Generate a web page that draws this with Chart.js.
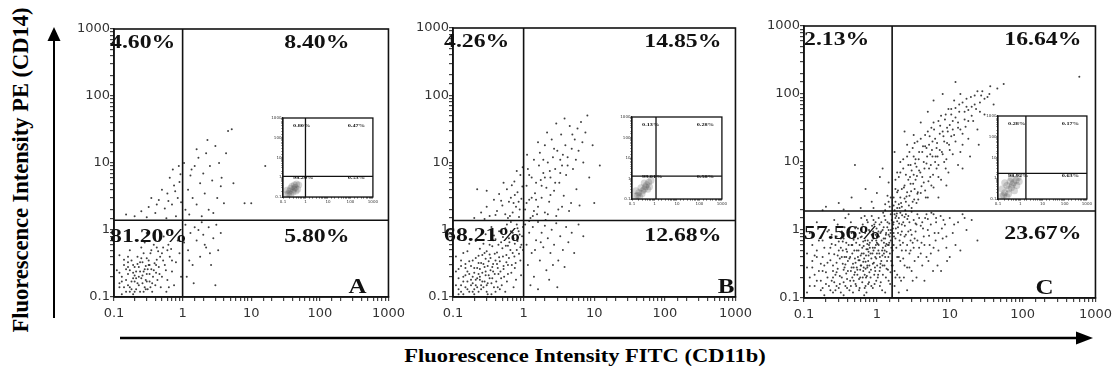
<!DOCTYPE html>
<html>
<head>
<meta charset="utf-8">
<script src="https://cdn.jsdelivr.net/npm/chart.js@4.4.1/dist/chart.umd.min.js"></script>
<style>
  body { margin: 0; background: #fff; }
  #fig { position: relative; width: 1113px; height: 377px; overflow: hidden; }
  .panel { position: absolute; }
  .title { position: absolute; font: bold 18px 'Liberation Serif', 'Times New Roman', serif; white-space: nowrap; color: #000; line-height: 1; }
  #xt { left: 585px; top: 347px; transform: translateX(-50%) scaleX(1.25); }
  #yt { left: 21px; top: 170px; font-size: 22.5px; transform: translate(-50%, -50%) rotate(-90deg); }
</style>
</head>
<body>
<div id="fig">
  <svg width="1113" height="377" style="position:absolute;left:0;top:0">
    <line x1="54" y1="318" x2="54" y2="38" stroke="#000" stroke-width="2"/>
    <polygon points="54,27 47.5,41 60.5,41" fill="#000"/>
    <line x1="120" y1="338" x2="1078" y2="338" stroke="#000" stroke-width="2.5"/>
    <polygon points="1093,338 1076,331.5 1076,344.5" fill="#000"/>
  </svg>
  <div class="title" id="xt">Fluorescence Intensity FITC (CD11b)</div>
  <div class="title" id="yt">Fluorescence Intensity PE (CD14)</div>
  <canvas id="chartA" class="panel"></canvas>
  <canvas id="chartB" class="panel"></canvas>
  <canvas id="chartC" class="panel"></canvas>
  <canvas id="insetA" class="panel"></canvas>
  <canvas id="insetB" class="panel"></canvas>
  <canvas id="insetC" class="panel"></canvas>
</div>
<script>
// axis ticks (both axes, log scale)
const decades = [0.1, 1, 10, 100, 1000];
const tickText = ['0.1', '1', '10', '100', '1000'];

// quadrant gates [FITC, PE] and percentages [UL, UR, LL, LR]
const gateA = [1.0, 1.4];
const gateB = [1.0, 1.37];
const gateC = [1.62, 1.9];
const pctA = ['4.60%', '8.40%', '81.20%', '5.80%'];
const pctB = ['4.26%', '14.85%', '68.21%', '12.68%'];
const pctC = ['2.13%', '16.64%', '57.56%', '23.67%'];
const panelNames = ['A', 'B', 'C'];

// isotype control insets
const insetGateA = [1.0, 1.1];
const insetGateB = [1.17, 1.3];
const insetGateC = [1.8, 1.7];
const insetPctA = ['0.80%', '0.47%', '98.20%', '0.53%'];
const insetPctB = ['0.13%', '0.28%', '99.01%', '0.58%'];
const insetPctC = ['0.28%', '0.17%', '98.92%', '0.63%'];
const insetCellsA = [[.2,.2],[.3,.25],[.25,.35],[.35,.3],[.18,.15],[.4,.45],[.28,.18],[.22,.28],[.45,.25],[.15,.22],[.32,.4],[.22,.13],[.38,.2],[.15,.14],[.5,.4]];
const insetCellsB = [[.2,.2],[.3,.25],[.25,.35],[.35,.3],[.18,.15],[.45,.5],[.28,.18],[.55,.65],[.4,.4],[.15,.25],[.6,.4],[.22,.13],[.35,.6],[.15,.14],[.7,.8],[.5,.3]];
const insetCellsC = [[.2,.2],[.3,.3],[.25,.45],[.4,.35],[.18,.15],[.5,.6],[.3,.18],[.65,.8],[.45,.5],[.15,.3],[.8,1.1],[.7,.45],[.2,.6],[.15,.14],[.35,.7],[.9,.7],[.25,.13],[.55,.25],[.4,1]];

// events [FITC, PE]
const cellsA = [
  [.12,.14],[.15,.18],[.18,.13],[.2,.21],[.22,.16],[.25,.19],[.17,.25],[.14,.3],[.28,.14],[.3,.22],[.19,.11],[.23,.28],[.13,.2],[.16,.15],[.26,.33],[.33,.17],[.21,.24],[.35,.26],[.4,.15],[.18,.35],
  [.24,.12],[.29,.29],[.12,.42],[.16,.22],[.37,.2],[.45,.28],[.2,.17],[.27,.24],[.31,.13],[.15,.12],[.42,.36],[.5,.2],[.22,.4],[.34,.45],[.19,.3],[.11,.25],[.25,.55],[.3,.38],[.48,.14],[.55,.3],
  [.6,.18],[.38,.6],[.17,.5],[.44,.48],[.65,.4],[.7,.24],[.28,.65],[.52,.55],[.75,.15],[.8,.33],[.62,.6],[.9,.45],[.13,.11],[.23,.2],[.32,.3],[.41,.23],[.21,.13],[.36,.12],[.26,.16],[.14,.36],
  [.58,.12],[.47,.4],[.19,.19],[.24,.33],[.33,.22],[.16,.28],[.29,.18],[.39,.32],[.12,.16],[.85,.7],[.68,.52],[.95,.2],[.22,.7],[.53,.8],[.3,.9],
  [.13,.17],[.17,.14],[.2,.12],[.23,.15],[.26,.21],[.3,.17],[.34,.14],[.19,.23],[.15,.26],[.22,.31],[.28,.26],[.32,.35],[.38,.25],[.43,.18],[.14,.14],[.18,.17],[.21,.19],[.24,.24],[.27,.12],[.31,.26],
  [.36,.16],[.41,.3],[.16,.33],[.2,.28],[.25,.38],[.12,.23],[.17,.12],[.29,.13],[.33,.3],[.46,.22],[.52,.35],[.57,.25],[.63,.14],[.7,.35],[.35,.5],[.27,.45],[.42,.55],[.16,.4],[.5,.45],[.6,.5],
  [.15,1.7],[.2,1.6],[.25,1.9],[.32,2.2],[.4,1.8],[.45,2.8],[.55,2.1],[.6,3.5],[.7,2.4],[.75,4.6],[.85,3],[.9,5.2],[.5,4],[.65,6],[.8,1.6],[.95,2.6],[.35,3],[.58,1.5],[.72,8],[.88,9],
  [.42,2.4],[.62,2.7],[.78,3.8],[.93,6.8],[.3,1.55],
  [1.1,2],[1.2,4],[1.3,6.5],[1.4,3],[1.5,9],[1.6,2.4],[1.7,12],[1.8,5],[2,7],[2.1,3.5],[2.2,14],[2.4,2],[2.5,9],[2.7,5.5],[3,18],[3.2,3],[3.4,10],[3.7,6],[4,2.5],[4.3,14],
  [4.6,30],[5.2,32],[1.25,1.7],[1.9,1.6],[2.8,1.8],[1.05,10],[1.35,8],[3.6,4.5],[8,2.5],[10,2.5],[16,9],[5.5,5],[2.3,22],[1.6,16],
  [1.1,1.2],[1.2,.5],[1.3,.9],[1.4,.3],[1.5,1.1],[1.6,.7],[1.8,.4],[1.9,1.3],[2,.85],[2.2,.55],[2.4,1.1],[2.6,.3],[2.8,.75],[3.1,1.2],[3.3,.5],[3.6,.9],[1.15,.2],[1.45,.16],[1.7,1],[2.1,.6],
  [3,.15],[1.05,.65],[1.25,.35],[2.5,.45]
];

const cellsB = [
  [.12,.13],[.14,.17],[.17,.12],[.19,.2],[.21,.15],[.24,.18],[.16,.24],[.13,.29],[.27,.14],[.29,.21],[.2,.11],[.22,.27],[.12,.19],[.15,.14],[.25,.32],[.31,.16],[.2,.23],[.34,.25],[.38,.14],[.17,.34],
  [.23,.12],[.28,.28],[.11,.4],[.15,.21],[.36,.19],[.43,.27],[.19,.16],[.26,.23],[.3,.12],[.14,.11],[.4,.35],[.48,.19],[.21,.38],[.33,.43],[.18,.29],[.11,.24],[.24,.52],[.29,.37],[.46,.13],[.52,.29],
  [.58,.17],[.36,.57],[.16,.48],[.42,.46],[.62,.38],[.67,.23],[.27,.62],[.5,.53],[.72,.14],[.77,.32],[.6,.58],[.86,.44],[.12,.11],[.22,.19],[.31,.29],[.39,.22],[.2,.13],[.35,.11],[.25,.15],[.13,.35],
  [.55,.12],[.45,.39],[.18,.18],[.23,.32],[.32,.21],[.15,.27],[.28,.17],[.37,.31],[.11,.15],[.82,.68],[.65,.5],[.92,.21],[.21,.68],[.51,.78],[.29,.86],[.4,.72],[.7,.9],[.55,1.05],[.8,1.2],[.95,.8],
  [.45,.95],[.35,1.1],[.62,.75],[.9,.55],[.75,.62],[.3,.48],[.48,.65],[.66,1.3],[.26,.42],[.44,.22],[.57,.42],[.17,.62],[.14,.45],[.38,.82],[.98,1.1],[.85,.95],[.6,.3],[.7,.45],[.33,.6],[.78,.18],
  [.13,.15],[.16,.13],[.18,.15],[.21,.18],[.23,.22],[.26,.17],[.3,.15],[.33,.19],[.37,.24],[.41,.17],[.14,.2],[.17,.22],[.2,.27],[.24,.26],[.27,.31],[.32,.34],[.36,.28],[.42,.31],[.47,.24],[.53,.2],
  [.12,.26],[.15,.31],[.19,.35],[.23,.41],[.28,.45],[.34,.38],[.39,.44],[.46,.34],[.51,.4],[.57,.33],[.13,.12],[.19,.12],[.25,.13],[.31,.11],[.4,.12],[.49,.15],[.6,.22],[.68,.3],[.74,.4],[.8,.5],
  [.63,.65],[.56,.58],[.44,.6],[.37,.7],[.72,.75],[.88,.85],[.93,.6],[.66,.95],[.58,1.2],[.82,1.05],[.24,.2],[.29,.24],[.35,.16],[.16,.17],[.22,.14],[.43,.14],[.52,.26],[.75,.27],[.9,.35],[.98,.5],
  [.2,1.5],[.25,1.8],[.3,2.2],[.33,1.6],[.38,2.8],[.42,1.9],[.45,3.4],[.5,2.3],[.55,1.7],[.58,4],[.62,2.6],[.66,3],[.7,1.8],[.74,5.2],[.78,2.2],[.82,3.6],[.86,1.55],[.9,6.5],[.93,2.9],[.96,4.4],
  [.3,3.8],[.28,1.45],[.48,2.7],[.6,1.5],[.68,4.6],[.8,7.5],[.88,2],[.52,5],[.4,1.65],[.72,2.5],[.64,1.6],[.97,8.5],[.22,4],[.85,2.6],[.75,3.3],
  [1.05,2],[1.1,4.5],[1.15,8],[1.2,2.8],[1.3,6],[1.35,1.6],[1.4,11],[1.45,3.5],[1.5,5],[1.6,2.2],[1.65,9],[1.7,14],[1.8,3],[1.9,7],[2,1.8],[2,18],[2.1,4.2],[2.2,10],[2.3,2.6],[2.4,6],
  [2.5,22],[2.6,12],[2.7,3.8],[2.8,8],[3,15],[3.1,2],[3.2,5],[3.4,26],[3.5,9],[3.7,3.2],[3.9,18],[4,6.5],[4.2,12],[4.5,35],[4.7,2.5],[5,8],[5.3,22],[5.6,4],[6,15],[6.5,40],
  [7,10],[7.5,28],[8,50],[8.5,6],[9.5,18],[10,2.5],[12,9],[1.25,1.5],[1.55,1.7],[2.9,1.6],[4.4,1.9],[6.2,2.3],[1.75,5.5],[2.35,7.5],[3.3,11],[5.8,32],[1.12,13],[1.6,20],[2.15,28],[3.8,45],
  [2.9,38],[1.1,2.5],[1.3,3],[1.5,2.8],[1.8,4.5],[2,6],[2.4,3.3],[2.8,5],[3.3,7],[3.6,13],[4.2,9],[4.8,16],[5.5,11],[6.8,20],[1.4,1.9],[2.2,1.7],[3.5,2.2],[1.2,6.5],[1.9,11],[2.7,16],[4.9,26],
  [1.05,1.2],[1.1,.6],[1.15,.3],[1.2,.9],[1.3,.45],[1.35,1.1],[1.4,.2],[1.5,.7],[1.6,1.3],[1.7,.35],[1.8,.9],[1.9,.55],[2,1.15],[2.1,.25],[2.2,.75],[2.4,.45],[2.5,1],[2.7,.6],[2.9,1.25],[3.1,.35],
  [3.3,.8],[3.6,.5],[4,1.1],[4.3,.65],[4.8,.9],[5.2,.45],[6,1.2],[7,.8],[1.25,.15],[1.6,.13],[2.3,.18],[3,.14],[1.45,.5],[1.75,.65],[2.6,.3],[1.2,1.35],[3.8,.28],[2.05,1.4]
];

const cellsC = [
  [.11,.12],[.12,.2],[.13,.35],[.14,.15],[.15,.5],[.16,.25],[.17,.13],[.18,.7],[.19,.3],[.12,.9],[.15,1.3],[.11,.45],[.17,.18],[.19,.11],[.13,.6],[.16,1.1],[.18,.4],[.14,.22],[.2,.16],[.11,.28],
  [.21,.2],[.22,.45],[.23,.13],[.24,.85],[.25,.3],[.26,.17],[.27,.6],[.28,.24],[.29,1.2],[.3,.14],[.31,.38],[.32,.75],[.33,.2],[.34,.5],[.35,.11],[.36,.28],[.37,1.5],[.38,.65],[.39,.19],[.4,.35],
  [.21,.33],[.23,.55],[.25,.12],[.27,.22],[.29,.42],[.31,.16],[.33,.95],[.35,.26],[.37,.15],[.39,.48],[.22,1],[.26,1.4],[.3,.68],[.34,.32],[.38,.23],[.24,.18],[.28,.15],[.32,.55],[.36,.4],[.4,.82],
  [.42,.13],[.44,.25],[.46,.6],[.48,.18],[.5,.38],[.52,1.1],[.54,.22],[.56,.5],[.58,.14],[.6,.3],[.62,.8],[.64,.2],[.66,.45],[.68,1.6],[.7,.27],[.72,.12],[.74,.62],[.76,.35],[.78,.17],[.8,.95],
  [.43,.4],[.47,.32],[.51,.16],[.55,.75],[.59,.26],[.63,.55],[.67,.11],[.71,.42],[.75,1.3],[.79,.24],[.45,.9],[.49,.5],[.53,.28],[.57,.19],[.61,1.5],[.65,.34],[.69,.7],[.73,.21],[.77,.48],[.41,1.7],
  [.44,.15],[.5,.24],[.6,.42],[.7,.15],[.58,.9],[.66,.28],[.52,.65],[.74,.3],[.46,.2],[.8,.55],
  [.82,.2],[.84,.38],[.86,.7],[.88,.14],[.9,.5],[.92,1.2],[.94,.28],[.96,.85],[.98,.18],[1,.45],[1.03,.62],[1.06,1.5],[1.09,.25],[1.12,.9],[1.15,.35],[1.18,.13],[1.21,.55],[1.24,1.1],[1.27,.3],[1.3,.75],
  [1.33,.2],[1.36,.48],[1.4,1.3],[1.44,.4],[1.48,.65],[1.52,.16],[1.56,1],[1.6,.3],[.85,1.6],[.91,.33],[.97,.6],[1.04,.22],[1.1,.4],[1.16,.7],[1.22,1.8],[1.28,.5],[1.34,.9],[1.42,.26],[1.5,.8],[1.58,.55],
  [.83,.26],[.89,.95],[.95,.4],[1.01,.3],[1.07,.8],[1.13,.17],[1.19,.42],[1.25,.65],[1.31,1.4],[1.38,.35],[1.46,.6],[1.54,.24],[.87,.45],[.93,.16],[.99,1.05],[1.05,.5],[1.11,.28],[1.2,1],[1.32,.58],[1.45,.85],
  [.12,.15],[.13,.28],[.14,.42],[.15,.18],[.16,.7],[.17,.32],[.18,.14],[.19,.55],[.2,.24],[.21,.95],[.22,.15],[.23,.36],[.24,.62],[.25,.2],[.26,.44],[.27,.13],[.28,.8],[.29,.27],[.3,.5],[.31,.21],
  [.32,.12],[.33,.4],[.34,.68],[.35,.17],[.36,1.1],[.37,.31],[.38,.52],[.39,.14],[.4,.25],[.41,.6],[.42,.38],[.43,.18],[.44,1.3],[.45,.28],[.46,.45],[.47,.12],[.48,.72],[.49,.22],[.5,.9],[.51,.33],
  [.52,.15],[.53,.5],[.54,.26],[.55,1.05],[.56,.36],[.57,.13],[.58,.6],[.59,.2],[.6,.78],[.61,.3],[.62,.45],[.63,.17],[.64,1.2],[.65,.25],[.66,.58],[.67,.38],[.68,.14],[.69,.9],[.7,.34],[.71,.2],
  [.72,.52],[.73,1.4],[.74,.28],[.75,.7],[.76,.16],[.77,.42],[.78,1],[.79,.3],[.8,.65],[.82,.45],[.84,.15],[.86,1.15],[.88,.32],[.9,.75],[.92,.22],[.94,.55],[.96,1.3],[.98,.38],[1,.8],[1.03,.2],
  [1.06,.6],[1.09,1.2],[1.12,.32],[1.15,.95],[1.18,.5],[1.21,.22],[1.24,.75],[1.27,1.6],[1.3,.4],[1.33,.85],[1.36,.27],[1.39,1.1],[1.42,.6],[1.45,.18],[1.48,1.25],[1.51,.45],[1.54,.9],[1.57,.35],[1.6,1.4],[1.55,.7],
  [.9,1.4],[1.05,.95],[1.15,1.3],[1.25,.45],[1.35,.62],[1.45,1],[1.55,1.7],[1.2,.3],[1.0,.65],[.95,.25],[1.1,.15],[1.3,.12],[.85,.85],[.75,.52],[.65,.68],[.55,.4],[.45,.6],[.35,.75],[.25,.25],[.15,.4],
  [.18,.25],[.28,.33],[.38,.4],[.48,.28],[.58,.36],[.68,.22],[.78,.6],[.88,.55],[.98,.7],[1.08,.45],
  [1.7,2.3],[1.8,4],[1.9,2.1],[2,6],[2.1,3],[2.2,2.2],[2.3,8],[2.4,4.5],[2.5,2.6],[2.6,12],[2.7,5.5],[2.8,3.2],[2.9,9],[3,2.1],[3.1,16],[3.2,6.5],[3.3,4],[3.4,11],[3.5,2.5],[3.6,20],
  [3.8,7.5],[4,3.5],[4.2,14],[4.4,5],[4.6,25],[4.8,9.5],[5,3],[5.2,18],[5.4,6],[5.6,32],[5.8,12],[6,4.2],[6.3,22],[6.6,8],[7,40],[7.3,15],[7.6,5.5],[8,28],[8.4,10],[8.8,50],
  [9.2,19],[9.6,7],[10,35],[10.5,60],[11,13],[11.5,25],[12,45],[13,9],[13.5,70],[14,30],[15,18],[16,55],[17,85],[18,40],[19,12],[20,65],[22,95],[24,30],[26,75],[28,110],
  [30,50],[33,90],[36,130],[40,70],[45,120],[55,140],[2.1,10],[2.6,18],[3.2,25],[4,38],[1.75,14],[2.4,28],[5,55],[6,80],[8,100],[12,150],[1.9,7],[15,8],[25,18],[7,3],
  [9,4.5],[600,180],[3.7,2.8],[6.8,12],[4.6,17],
  [1.7,3],[1.8,5.5],[1.9,3.6],[2,2.4],[2.1,7],[2.2,4],[2.3,11],[2.4,2.9],[2.5,6.5],[2.6,3.6],[2.7,9],[2.8,14],[2.9,4.8],[3,7.5],[3.1,2.6],[3.2,12],[3.3,19],[3.4,5.5],[3.5,8.5],[3.6,3.4],
  [3.8,14],[4,22],[4.2,6],[4.4,10],[4.6,3.8],[4.8,16],[5,28],[5.2,8],[5.4,13],[5.6,4.5],[5.8,20],[6,38],[6.3,10],[6.6,16],[7,6],[7.3,26],[7.6,48],[8,13],[8.4,20],[8.8,8],
  [9.2,32],[9.6,60],[10,15],[10.5,24],[11,40],[11.5,80],[12,20],[13,32],[13.5,55],[14,100],[15,26],[16,42],[17,65],[18,22],[20,48],[22,70],[24,110],[26,55],[30,85],[35,100],
  [1.75,1.95],[1.8,2.6],[1.95,3.8],[2.05,2.1],[2.15,2.5],[2.35,4.2],[2.45,1.95],[2.55,3.1],[2.75,2.3],[2.85,6],[2.95,3.7],[3.15,4.8],[3.25,2.8],[3.35,9.5],[3.55,6.2],[3.65,3.6],[3.75,11],[3.95,7],[4.1,4.4],[4.3,17],
  [4.5,8],[4.7,3],[4.9,12],[5.1,5.2],[5.3,24],[5.5,9],[5.7,15],[5.9,6.5],[6.1,30],[6.4,12],[6.7,19],[7,9],[7.4,34],[7.8,14],[8.2,24],[8.6,42],[9,11],[9.4,28],[9.8,18],[10.5,50],
  [11,30],[12,62],[13,38],[14,14],[15,75],[16.5,33],[18,58],[19.5,90],[21,40],[23,60],[27,95],
  [1.65,.3],[1.7,.9],[1.75,.15],[1.8,1.5],[1.85,.55],[1.9,.22],[1.95,1.1],[2,.4],[2.05,.7],[2.1,1.8],[2.15,.18],[2.2,.5],[2.3,1.3],[2.4,.3],[2.5,.85],[2.6,.13],[2.7,1.6],[2.8,.45],[2.9,1],[3,.25],
  [3.1,.65],[3.2,1.4],[3.3,.35],[3.4,.95],[3.5,.2],[3.6,1.7],[3.8,.55],[4,1.15],[4.2,.3],[4.4,.8],[4.6,1.5],[4.8,.4],[5,1],[5.3,.6],[5.6,1.8],[5.9,.25],[6.2,.9],[6.5,1.3],[7,.5],[7.5,1.6],
  [8,.75],[8.6,1.2],[9.2,.35],[10,1.5],[11,.9],[12,.6],[13,1.3],[15,1.7],[17,1],[20,1.4],[24,.7],[1.7,.6],[1.8,.2],[1.9,1.35],[2,.12],[2.2,.95],[2.4,1.55],[2.6,.6],[2.8,.28],[3,1.85],
  [3.3,.75],[3.7,.4],[4.1,.65],[4.5,.18],[5,1.45],[5.5,.45],[6,1.7],[6.8,.3],[7.8,1.05],[9,.55],[1.68,1.2],[2.1,.35],[2.5,.5],[2.9,.7],[3.5,1.2],[4.3,1.05],[5.2,.82],[6.4,.7],[1.75,1.7],[2.35,.2],
  [1.65,.5],[1.7,1.3],[1.75,.25],[1.8,.75],[1.85,1.6],[1.9,.4],[1.95,.9],[2,1.5],[2.05,.2],[2.1,.6],[2.2,1.2],[2.3,.38],[2.4,.8],[2.5,1.7],[2.6,.28],[2.7,.95],[2.8,1.3],[2.9,.5],[3,.85],[3.1,.18],
  [3.2,.55],[3.4,1.25],[3.6,.7],[3.8,1.5],[4,.45],[4.2,1.3],[4.5,.6],[4.8,1.7],[5.1,.35],[5.5,1.2],[6,.55],[6.5,1.5],[7,.9],[7.6,.25],[8.2,1.4],[9,.8],[10,.4],[11.5,1.2],[14,.5],[16,1.5],
  [1.66,1.05],[1.72,.8],[1.82,1.05],[1.88,1.75],[2.02,1.25],[2.12,.85],[2.22,1.65],[2.28,.65],[2.42,1.15],[2.62,1.45],
  [.2,2.2],[.3,2.5],[.45,3],[.6,2.1],[.7,4],[.85,2.6],[1,3.5],[1.1,6],[1.3,2.4],[1.45,5],[.5,9],[.9,2.1],[1.2,8],[.35,2],[.18,1.95],[1.55,3],
  [1.3,1.95],[1.45,2.6],[1.5,2.2],[1.4,3.2]
];

// pixel boxes of each plot area: [left, top, right, bottom]
const boxes = { A: [114, 29, 391, 297], B: [453, 28, 738, 297], C: [804, 26, 1098, 298] };
const insetBoxes = { A: [283, 117, 373, 197], B: [632, 116, 722, 199], C: [998, 115, 1087, 199] };
const labelOffsets = { A: [-4, -39, -22], B: [-9, -14, -1], C: [0, -14, -42] };

const serif = "'Liberation Serif', 'Times New Roman', serif";

const quadPlugin = {
  id: 'quad',
  beforeDatasetsDraw(chart, args, o) {
    const { ctx, chartArea: a } = chart;
    if (o.fill) {
      ctx.save();
      ctx.fillStyle = o.fill;
      ctx.fillRect(a.left, a.top, a.right - a.left, a.bottom - a.top);
      ctx.restore();
    }
  },
  afterDatasetsDraw(chart, args, o) {
    const { ctx, chartArea: a, scales: { x, y } } = chart;
    ctx.save();
    ctx.strokeStyle = '#111';
    ctx.lineWidth = o.lineWidth;
    ctx.strokeRect(a.left, a.top, a.right - a.left, a.bottom - a.top);
    const gx = x.getPixelForValue(o.gate[0]);
    const gy = y.getPixelForValue(o.gate[1]);
    ctx.beginPath();
    ctx.moveTo(gx, a.top); ctx.lineTo(gx, a.bottom);
    ctx.moveTo(a.left, gy); ctx.lineTo(a.right, gy);
    ctx.stroke();

    ctx.fillStyle = '#111';
    const put = (t, px, py, right) => {
      const w = ctx.measureText(t).width * 1.25;
      ctx.save();
      ctx.translate(right ? px - w : px, py);
      ctx.scale(1.25, 1);
      ctx.fillText(t, 0, 0);
      ctx.restore();
    };
    ctx.font = 'bold ' + o.size + 'px ' + serif;
    put(o.pct[0], a.left + o.offL, a.top + o.topBase, false);
    put(o.pct[1], a.right + o.offR, a.top + o.topBase, true);
    put(o.pct[2], a.left + o.offL, a.top + o.lowBase, false);
    put(o.pct[3], a.right + o.offR, a.top + o.lowBase, true);
    if (o.letter) {
      ctx.font = 'bold 20px ' + serif;
      put(o.letter, a.right + o.letterR, a.bottom - 4, true);
    }
    ctx.restore();
  }
};

function logAxis(size, tick, pad, lw, fit) {
  return {
    type: 'logarithmic', min: 0.1, max: 1000,
    border: { display: true, color: '#222', width: lw },
    grid: { display: true, drawOnChartArea: false, drawTicks: true, tickLength: tick, color: '#444', tickColor: '#444', lineWidth: lw * 0.8 },
    ticks: {
      autoSkip: false, maxRotation: 0, padding: pad, color: '#333',
      font: { family: "'DejaVu Sans', sans-serif", size: size },
      callback: (v) => {
        const i = decades.findIndex(d => Math.abs(Math.log10(v) - Math.log10(d)) < 1e-6);
        return i >= 0 ? tickText[i] : '';
      }
    },
    afterFit: fit
  };
}

function toPts(list) { return list.map(([x, y]) => ({ x, y })); }

function makeChart(id, box, s, datasets, quad) {
  const el = document.getElementById(id);
  el.width = box[2] - box[0] + s.axisW + s.padR;
  el.height = box[3] - box[1] + s.padT + s.axisH;
  el.style.left = (box[0] - s.axisW) + 'px';
  el.style.top = (box[1] - s.padT) + 'px';
  return new Chart(el, {
    type: 'scatter',
    data: { datasets },
    options: {
      responsive: false,
      animation: false,
      events: [],
      layout: { padding: { top: s.padT, right: s.padR, left: 0, bottom: 0 } },
      scales: {
        x: logAxis(s.font, s.tick, s.padX, s.lw, (sc) => { sc.height = s.axisH; }),
        y: logAxis(s.font, s.tick, s.padY, s.lw, (sc) => { sc.width = s.axisW; })
      },
      plugins: { legend: { display: false }, tooltip: { enabled: false }, quad }
    },
    plugins: [quadPlugin]
  });
}

const mainStyle = { axisW: 42, axisH: 26, padT: 10, padR: 19, font: 13, tick: 4, padX: 5, padY: 0, lw: 1.5 };
const insetStyle = { axisW: 13, axisH: 8, padT: 3, padR: 6, font: 4, tick: 1.5, padX: 1, padY: 0, lw: 1.2 };

const mains = [
  ['chartA', 'A', cellsA, gateA, pctA],
  ['chartB', 'B', cellsB, gateB, pctB],
  ['chartC', 'C', cellsC, gateC, pctC]
];
mains.forEach(([id, key, cells, gate, pct], i) => {
  const off = labelOffsets[key];
  makeChart(id, boxes[key], mainStyle, [
    { data: toPts(cells), pointRadius: 1, pointBackgroundColor: 'rgba(30,30,30,0.85)', pointBorderWidth: 0 }
  ], { gate, pct, size: 19, lineWidth: 1.6, offL: off[0], offR: off[1], letter: panelNames[i], letterR: off[2], topBase: 19, lowBase: 213 });
});

const insets = [
  ['insetA', 'A', insetCellsA, insetGateA, insetPctA],
  ['insetB', 'B', insetCellsB, insetGateB, insetPctB],
  ['insetC', 'C', insetCellsC, insetGateC, insetPctC]
];
insets.forEach(([id, key, cells, gate, pct]) => {
  makeChart(id, insetBoxes[key], insetStyle, [
    { data: toPts(cells), pointRadius: 3.5, pointBackgroundColor: 'rgba(70,70,70,0.22)', pointBorderWidth: 0 }
  ], { gate, pct, size: 5, lineWidth: 1.3, offL: 10, offR: -8, letter: null, topBase: 9, lowBase: 61, fill: '#fff' });
});
</script>
</body>
</html>
